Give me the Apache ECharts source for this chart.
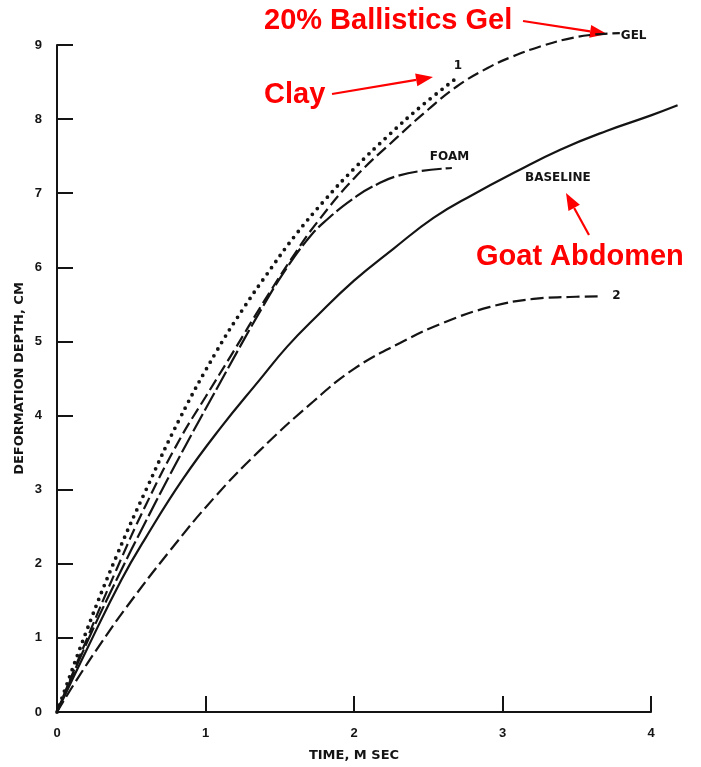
<!DOCTYPE html>
<html>
<head>
<meta charset="utf-8">
<script src="https://cdn.jsdelivr.net/npm/echarts@6/dist/echarts.min.js"></script>
<style>
  html, body { margin: 0; padding: 0; background: #ffffff; }
  #chart { width: 701px; height: 767px; }
</style>
</head>
<body>
<div id="chart"></div>
<script>
// Axis ranges / tick labels
const timeTicks = [0, 1, 2, 3, 4];
const depthTicks = [0, 1, 2, 3, 4, 5, 6, 7, 8, 9];
const depthTitle = 'DEFORMATION DEPTH, CM';

// Deformation depth (cm) against time (ms), one array per backing material
const clayCurve = [
  [0, 0], [0.2, 1.1], [0.4, 2.1], [0.6, 3.0], [0.827, 3.96], [1.075, 4.87],
  [1.25, 5.43], [1.411, 5.9], [1.6, 6.42], [1.8, 6.9], [2.0, 7.33],
  [2.243, 7.8], [2.45, 8.17], [2.692, 8.556]
];
const gelCurve = [
  [0, 0], [0.2, 0.98], [0.4, 1.92], [0.6, 2.8], [0.827, 3.68], [1.0, 4.25],
  [1.184, 4.85], [1.4, 5.56], [1.6, 6.18], [1.749, 6.6], [2.0, 7.2],
  [2.288, 7.75], [2.5, 8.13], [2.692, 8.44], [2.9, 8.69], [3.074, 8.85],
  [3.254, 8.98], [3.434, 9.08], [3.613, 9.14], [3.79, 9.16]
];
const foamCurve = [
  [0, 0], [0.2, 0.93], [0.4, 1.78], [0.6, 2.58], [0.827, 3.45], [1.1, 4.45],
  [1.389, 5.48], [1.55, 6.0], [1.681, 6.36], [1.793, 6.6], [2.018, 6.96],
  [2.175, 7.14], [2.288, 7.23], [2.45, 7.3], [2.659, 7.34]
];
const baselineCurve = [
  [0, 0], [0.2, 0.84], [0.434, 1.785], [0.6, 2.36], [0.845, 3.135], [1.1, 3.83],
  [1.366, 4.485], [1.55, 4.93], [1.749, 5.339], [2.0, 5.82], [2.265, 6.25],
  [2.535, 6.667], [2.8, 6.98], [3.1, 7.3], [3.389, 7.588], [3.7, 7.84],
  [4.0, 8.05], [4.179, 8.186]
];
const curve2 = [
  [0, 0], [0.119, 0.39], [0.3, 0.94], [0.47, 1.42], [0.75, 2.15], [1.057, 2.888],
  [1.366, 3.53], [1.726, 4.19], [2.0, 4.63], [2.31, 4.98], [2.6, 5.25],
  [2.917, 5.466], [3.209, 5.574], [3.45, 5.6], [3.665, 5.609]
];

const INK = '#141414';
const RED = '#ff0000';
const labelFont = { fontFamily: 'DejaVu Sans', fontWeight: 'bold', fontSize: 12, color: INK };

// The baseline run continues a little past the last labelled tick, so the
// curves live on a second, wider grid that keeps the same scale per unit.
const PLOT_LEFT = 57, PLOT_TOP = 45, PLOT_BOTTOM = 55, PLOT_WIDTH = 594;
const xAxisMax = timeTicks[timeTicks.length - 1];
const curveXMax = 4.3;
const curveWidth = PLOT_WIDTH * curveXMax / xAxisMax;

function curveSeries(name, data, dash, width, cap, endText, offset) {
  return {
    name: name,
    type: 'line',
    xAxisIndex: 1,
    yAxisIndex: 1,
    data: data,
    showSymbol: false,
    symbol: 'none',
    smooth: 0.45,
    clip: false,
    silent: true,
    lineStyle: { color: INK, width: width, type: dash, cap: cap },
    endLabel: endText ? Object.assign({
      show: true, formatter: endText, distance: 0, offset: offset
    }, labelFont) : { show: false }
  };
}

const chart = echarts.init(document.getElementById('chart'), null, { renderer: 'canvas' });

const axisCommon = {
  type: 'value',
  interval: 1,
  axisLine: { show: true, onZero: false, lineStyle: { color: INK, width: 2 } },
  axisTick: { show: true, inside: true, length: 16, lineStyle: { color: INK, width: 2 } },
  splitLine: { show: false },
  nameLocation: 'middle',
  nameTextStyle: { fontFamily: 'DejaVu Sans', fontWeight: 'bold', fontSize: 13, color: INK }
};
const tickLabel = { margin: 15, fontFamily: 'Liberation Sans', fontWeight: 'bold', fontSize: 13, color: INK };
const hiddenAxis = { type: 'value', show: false, splitLine: { show: false } };

chart.setOption({
  animation: false,
  backgroundColor: '#ffffff',
  grid: [
    { left: PLOT_LEFT, top: PLOT_TOP, bottom: PLOT_BOTTOM, width: PLOT_WIDTH },
    { left: PLOT_LEFT, top: PLOT_TOP, bottom: PLOT_BOTTOM, width: curveWidth }
  ],
  xAxis: [
    Object.assign({}, axisCommon, {
      gridIndex: 0,
      min: timeTicks[0], max: xAxisMax,
      name: 'TIME, M SEC', nameGap: 37,
      axisLabel: Object.assign({ formatter: v => timeTicks.includes(v) ? String(v) : '' }, tickLabel)
    }),
    Object.assign({}, hiddenAxis, { gridIndex: 1, min: 0, max: curveXMax })
  ],
  yAxis: [
    Object.assign({}, axisCommon, {
      gridIndex: 0,
      min: depthTicks[0], max: depthTicks[depthTicks.length - 1],
      axisLabel: Object.assign({ formatter: v => depthTicks.includes(v) ? String(v) : '' }, tickLabel)
    }),
    Object.assign({}, hiddenAxis, {
      gridIndex: 1, min: depthTicks[0], max: depthTicks[depthTicks.length - 1]
    })
  ],
  series: [
    curveSeries('Clay', clayCurve, [0, 7.5], 3.8, 'round', '1', [-3, -12]),
    curveSeries('Gel', gelCurve, [12, 5], 2.2, 'butt', 'GEL', [1, 3]),
    curveSeries('Foam', foamCurve, [20, 4], 2.2, 'butt', 'FOAM', [-22, -11]),
    curveSeries('Baseline', baselineCurve, 'solid', 2.2, 'butt', null, null),
    curveSeries('Test 2', curve2, [13, 5], 2.2, 'butt', '2', [11, 0])
  ]
});

// Annotations: red captions with arrows, the BASELINE caption and the vertical axis title
function arrow(x1, y1, x2, y2, headLen, headHalf) {
  const dx = x2 - x1, dy = y2 - y1;
  const len = Math.sqrt(dx * dx + dy * dy);
  const ux = dx / len, uy = dy / len;
  const bx = x2 - ux * headLen, by = y2 - uy * headLen;
  return [
    { type: 'line', shape: { x1: x1, y1: y1, x2: bx, y2: by },
      style: { stroke: RED, lineWidth: 2.2 }, silent: true },
    { type: 'polygon', shape: { points: [
        [x2, y2], [bx - uy * headHalf, by + ux * headHalf], [bx + uy * headHalf, by - ux * headHalf]
      ] }, style: { fill: RED }, silent: true }
  ];
}

function caption(text, x, y, font, color) {
  return { type: 'text', x: x, y: y, silent: true,
    style: { text: text, fill: color, font: font, textAlign: 'left', textVerticalAlign: 'middle' } };
}

const plotMidY = PLOT_TOP + (767 - PLOT_TOP - PLOT_BOTTOM) / 2;
const redFont = 'bold 29px "Liberation Sans"';
chart.setOption({
  graphic: [
    caption('20% Ballistics Gel', 264, 21, redFont, RED),
    caption('Clay', 264, 95, redFont, RED),
    caption('Goat Abdomen', 476, 257, redFont, RED),
    caption('BASELINE', 525, 178, 'bold 12px "DejaVu Sans"', INK),
    { type: 'text', x: 20, y: plotMidY, rotation: Math.PI / 2, silent: true,
      style: { text: depthTitle, fill: INK, font: 'bold 13px "DejaVu Sans"',
        textAlign: 'center', textVerticalAlign: 'middle' } }
  ]
    .concat(arrow(523, 21, 607, 34, 17, 6.5))
    .concat(arrow(332, 94, 433, 77, 17, 6.5))
    .concat(arrow(589, 235, 566, 193, 17, 6.5))
});
</script>
</body>
</html>
